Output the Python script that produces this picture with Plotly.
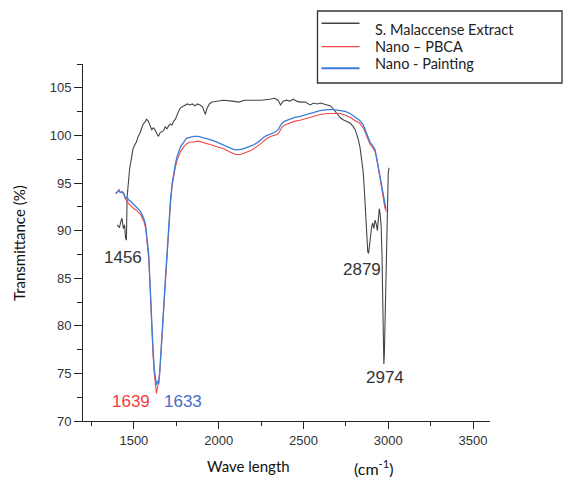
import plotly.graph_objects as go

# ---------------- data ----------------
extract_x = [1402, 1415, 1422, 1430, 1438, 1445, 1451, 1456, 1460, 1466, 1475, 1485, 1495, 1505,
             1515, 1525, 1535, 1545, 1555, 1565, 1575, 1585, 1595, 1605, 1615, 1625, 1635, 1645,
             1655, 1665, 1675, 1685, 1695, 1705, 1715, 1725, 1735, 1745, 1755, 1765, 1775, 1785,
             1800, 1815, 1830, 1845, 1860, 1875, 1890, 1905, 1915, 1922, 1930, 1945, 1960, 1990,
             2030, 2080, 2120, 2150, 2200, 2250, 2300, 2330, 2350, 2365, 2380, 2400, 2420, 2440,
             2460, 2480, 2510, 2540, 2560, 2580, 2600, 2620, 2640, 2660, 2675, 2690, 2705, 2720,
             2740, 2760, 2775, 2790, 2805, 2820, 2833, 2845, 2853, 2860, 2867, 2872, 2876, 2879,
             2884, 2890, 2896, 2902, 2908, 2915, 2922, 2929, 2936, 2942, 2947, 2952, 2958, 2963,
             2968, 2971, 2974, 2977, 2980, 2984, 2988, 2992, 2996, 3000, 3004]
extract_y = [90.6, 90.3, 90.9, 91.3, 90.2, 90.6, 89.2, 89.0, 93.5, 95.0, 96.5, 97.5, 98.6, 99.0,
             99.3, 99.9, 100.2, 100.7, 101.2, 101.4, 101.7, 101.5, 101.0, 100.6, 100.8, 100.6, 100.2, 99.9,
             100.3, 100.4, 100.5, 100.9, 100.7, 101.0, 101.2, 101.1, 101.5, 101.7, 102.2, 102.6, 102.9, 103.0,
             103.1, 103.3, 103.2, 103.3, 103.1, 103.3, 103.2, 103.0, 102.5, 102.2, 102.8, 103.3, 103.5, 103.6,
             103.7, 103.6, 103.5, 103.7, 103.7, 103.7, 103.8, 103.9, 103.7, 103.2, 103.6, 103.7, 103.6, 103.8,
             103.6, 103.5, 103.5, 103.2, 103.4, 103.3, 103.4, 103.3, 103.2, 103.1, 102.8, 102.5, 102.1, 101.8,
             101.6, 101.4, 101.3, 101.0, 100.6, 99.8, 98.8, 97.2, 96.0, 94.0, 91.8, 89.5, 88.2, 87.8,
             87.6, 88.8, 89.8, 90.4, 90.8, 90.2, 91.1, 90.7, 90.0, 91.5, 92.3, 91.8, 90.5, 87.5,
             82.0, 79.0, 76.0, 77.0, 80.0, 83.8, 86.5, 90.0, 93.5, 96.0, 96.6]

pbca_x = [1392, 1400, 1412, 1420, 1430, 1441, 1450, 1461, 1470, 1480, 1490, 1500, 1510, 1520, 1530,
          1540, 1550, 1560, 1569, 1578, 1588, 1595, 1600, 1607, 1613, 1620, 1627, 1633, 1640, 1646,
          1652, 1660, 1668, 1676, 1686, 1696, 1706, 1716, 1726, 1735, 1745, 1755, 1765, 1775, 1794,
          1810, 1830, 1853, 1880, 1900, 1932, 1960, 1990, 2029, 2060, 2090, 2100, 2130, 2160, 2190,
          2206, 2240, 2265, 2285, 2310, 2330, 2344, 2355, 2363, 2375, 2390, 2420, 2450, 2480, 2520,
          2560, 2598, 2640, 2677, 2720, 2750, 2775, 2800, 2830, 2853, 2870, 2880, 2892, 2905, 2915,
          2922, 2930, 2940, 2951, 2960, 2970, 2980, 2990]
pbca_y = [93.9, 94.0, 94.3, 94.0, 94.0, 93.8, 93.3, 93.1, 92.8, 92.6, 92.5, 92.3, 92.2, 92.0, 91.8,
          91.7, 91.3, 90.9, 90.3, 88.8, 87.0, 84.3, 81.8, 79.2, 77.0, 75.0, 73.5, 72.9, 73.6, 74.0,
          75.0, 76.8, 79.3, 81.8, 84.8, 87.8, 90.2, 92.9, 94.8, 95.9, 96.7, 97.4, 97.9, 98.3, 98.8,
          99.1, 99.3, 99.3, 99.4, 99.3, 99.2, 99.0, 98.8, 98.6, 98.3, 98.1, 98.0, 98.0, 98.2, 98.4,
          98.6, 99.0, 99.4, 99.7, 99.9, 100.0, 100.1, 100.3, 100.6, 100.9, 101.1, 101.3, 101.5, 101.6, 101.8,
          102.0, 102.2, 102.3, 102.3, 102.3, 102.1, 101.9, 101.6, 101.3, 100.8, 100.1, 99.6, 99.1, 98.8, 98.5,
          98.3, 97.7, 96.8, 95.6, 94.6, 93.4, 92.4, 92.0]

painting_x = [1392, 1400, 1412, 1420, 1430, 1441, 1450, 1461, 1470, 1480, 1490, 1500, 1510, 1520, 1530,
              1540, 1550, 1560, 1569, 1578, 1588, 1595, 1600, 1607, 1613, 1620, 1627, 1633, 1640, 1646,
              1652, 1660, 1668, 1676, 1686, 1696, 1706, 1716, 1726, 1735, 1745, 1755, 1765, 1775, 1794,
              1810, 1830, 1853, 1880, 1900, 1932, 1960, 1990, 2029, 2060, 2090, 2108, 2130, 2160, 2190,
              2206, 2240, 2265, 2285, 2310, 2330, 2344, 2355, 2363, 2375, 2390, 2420, 2450, 2480, 2520,
              2560, 2598, 2640, 2677, 2720, 2750, 2775, 2800, 2830, 2853, 2870, 2880, 2892, 2905, 2915,
              2922, 2930, 2940, 2951, 2960, 2970, 2980, 2986]
painting_y = [93.9, 94.0, 94.2, 94.0, 94.1, 93.9, 93.4, 93.5, 93.2, 93.1, 92.9, 92.7, 92.6, 92.4, 92.2,
              92.0, 91.6, 91.2, 90.6, 89.0, 87.4, 84.5, 82.0, 79.5, 77.5, 75.5, 74.3, 73.8, 74.2, 73.9,
              75.0, 77.0, 79.5, 82.0, 85.0, 88.0, 90.4, 93.2, 95.0, 96.2, 97.0, 97.8, 98.3, 98.8, 99.3,
              99.7, 99.8, 99.9, 99.9, 99.8, 99.7, 99.5, 99.3, 99.0, 98.7, 98.5, 98.5, 98.5, 98.7, 98.9,
              99.0, 99.4, 99.8, 100.0, 100.2, 100.3, 100.5, 100.7, 101.0, 101.3, 101.5, 101.7, 101.9, 102.0, 102.2,
              102.4, 102.6, 102.7, 102.7, 102.6, 102.5, 102.3, 102.0, 101.6, 101.1, 100.3, 99.8, 99.3, 99.0, 98.7,
              98.5, 97.8, 96.8, 95.7, 94.8, 93.8, 92.8, 92.3]

series_names = ["S. Malaccense Extract", "Nano \u2013 PBCA", "Nano - Painting"]
series_colors = ["#454545", "#f24848", "#3b7dd8"]

x_tickvals = [1500, 2000, 2500, 3000, 3500]
y_tickvals = [70, 75, 80, 85, 90, 95, 100, 105]

peak_labels = ["1456", "2879", "2974", "1639", "1633"]
peak_label_x = [1434, 2845, 2980, 1481, 1787]
peak_label_y = [87.2, 85.9, 74.6, 72.1, 72.0]
peak_label_colors = ["#333333", "#333333", "#333333", "#f03c3c", "#4a6cc8"]

# ---------------- figure ----------------
W, H = 563, 479
L, R, T, B = 83, 73, 64, 58


def px2x(px):
    return (px - L) / (W - L - R)


def py2y(py):
    return (H - B - py) / (H - T - B)


fig = go.Figure()
fig.add_trace(go.Scatter(x=extract_x, y=extract_y, mode="lines", name=series_names[0],
                         line=dict(color=series_colors[0], width=1.1), showlegend=False))
fig.add_trace(go.Scatter(x=pbca_x, y=pbca_y, mode="lines", name=series_names[1],
                         line=dict(color=series_colors[1], width=1.1), showlegend=False))
fig.add_trace(go.Scatter(x=painting_x, y=painting_y, mode="lines", name=series_names[2],
                         line=dict(color=series_colors[2], width=1.3), showlegend=False))

axis_font = dict(family="Liberation Sans, Arial, sans-serif", size=13, color="#333333")
fig.update_xaxes(range=[1200, 3600], tickvals=x_tickvals, showgrid=False, zeroline=False,
                 showline=True, linecolor="#222222", linewidth=1, ticks="outside", ticklen=7,
                 tickcolor="#222222", tickfont=axis_font,
                 minor=dict(tick0=1250, dtick=500, ticks="outside", ticklen=4, tickcolor="#222222"))
fig.update_yaxes(range=[70, 107.5], tickvals=y_tickvals, showgrid=False, zeroline=False,
                 showline=True, linecolor="#222222", linewidth=1, ticks="outside", ticklen=8,
                 tickcolor="#222222", tickfont=axis_font,
                 minor=dict(tick0=72.5, dtick=5, ticks="outside", ticklen=5, tickcolor="#222222"))

annotations = []
for txt, ax_, ay_, c in zip(peak_labels, peak_label_x, peak_label_y, peak_label_colors):
    annotations.append(dict(x=ax_, y=ay_, xref="x", yref="y", text=txt, showarrow=False,
                            xanchor="center", yanchor="middle",
                            font=dict(family="Liberation Sans, Arial, sans-serif", size=17, color=c)))

title_font = dict(family="Lato, sans-serif", size=15, color="#111111")
annotations.append(dict(x=px2x(248), y=py2y(466), xref="paper", yref="paper", text="Wave length",
                        xanchor="center", yanchor="middle", showarrow=False, font=title_font))
annotations.append(dict(x=px2x(374), y=py2y(467), xref="paper", yref="paper",
                        text="(cm<sup>-1</sup>)", xanchor="center", yanchor="middle", showarrow=False,
                        font=dict(family="Lato, sans-serif", size=16, color="#111111")))
annotations.append(dict(x=px2x(19), y=py2y(243), xref="paper", yref="paper",
                        text="Transmittance (%)", textangle=-90, xanchor="center", yanchor="middle",
                        showarrow=False, font=title_font))

# legend (box, samples, labels)
shapes = [dict(type="rect", xref="paper", yref="paper", x0=px2x(317.5), x1=px2x(562),
               y0=py2y(83), y1=py2y(11), line=dict(color="#333333", width=1.3))]
legend_line_y = [23.3, 46.7, 68.3]
legend_text_y = [30, 47, 63]
legend_line_w = [1.5, 1.2, 2]
for name, c, ly, ty, lw in zip(series_names, series_colors, legend_line_y, legend_text_y, legend_line_w):
    shapes.append(dict(type="line", xref="paper", yref="paper", x0=px2x(321.5), x1=px2x(359.5),
                       y0=py2y(ly), y1=py2y(ly), line=dict(color=c, width=lw)))
    annotations.append(dict(x=px2x(372.5), y=py2y(ty), xref="paper", yref="paper", text=name,
                            xanchor="left", yanchor="middle", showarrow=False,
                            font=dict(family="Lato, sans-serif", size=14.5, color="#222222")))

fig.update_layout(width=W, height=H, margin=dict(l=L, r=R, t=T, b=B),
                  paper_bgcolor="white", plot_bgcolor="white", showlegend=False,
                  annotations=annotations, shapes=shapes)

fig.write_html("out.html", config={"displayModeBar": False},
               post_script="document.body.style.margin='0';document.body.style.overflow='hidden';")
